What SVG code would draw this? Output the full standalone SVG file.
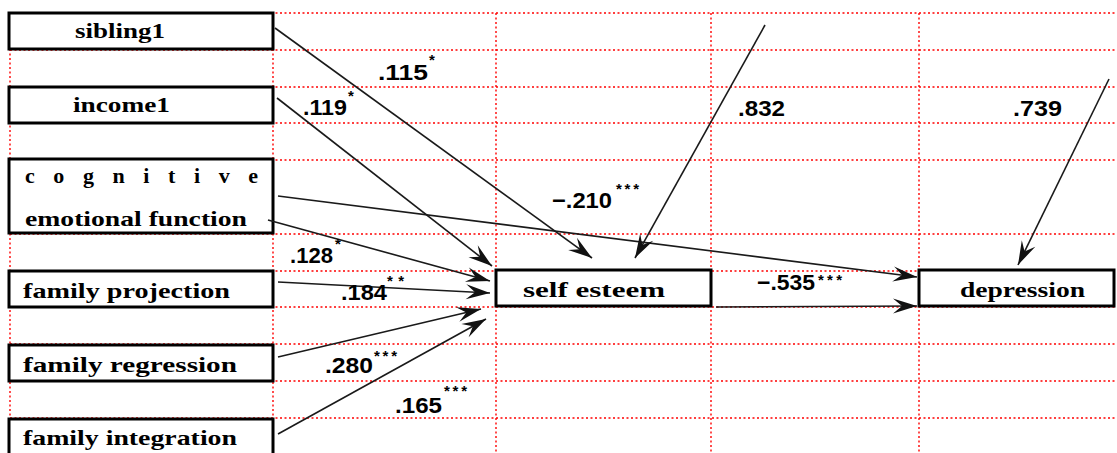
<svg xmlns="http://www.w3.org/2000/svg" width="1117" height="453" viewBox="0 0 1117 453">
<style>
.grid line{stroke:#ff0000;stroke-width:1.4;stroke-dasharray:2 2.5}
.box{fill:#fff;stroke:#000;stroke-width:3}
.lbl{font-family:"Liberation Serif","Times New Roman",serif;font-weight:bold;font-size:22px;fill:#000}
.num{font-family:"Liberation Sans",Arial,sans-serif;font-weight:bold;font-size:22px;fill:#000}
.star{font-family:"Liberation Sans",Arial,sans-serif;font-weight:bold;font-size:15px;fill:#000}
.conn line{stroke:#1a1a1a;stroke-width:1.6;fill:none;marker-end:url(#ah)}
</style>
<defs>
<marker id="ah" markerUnits="userSpaceOnUse" markerWidth="30" markerHeight="20" viewBox="-26 -10 30 20" refX="0" refY="0" orient="auto">
<path d="M0,0 L-24,-7.5 L-15,0 L-24,7.5 Z" fill="#111"/>
</marker>
</defs>
<rect width="1117" height="453" fill="#fff"/>
<g class="grid">
<line x1="10" y1="13" x2="1117" y2="13"/>
<line x1="10" y1="50" x2="1117" y2="50"/>
<line x1="10" y1="87" x2="1117" y2="87"/>
<line x1="10" y1="123" x2="1117" y2="123"/>
<line x1="10" y1="160" x2="1117" y2="160"/>
<line x1="10" y1="234" x2="1117" y2="234"/>
<line x1="10" y1="271" x2="1117" y2="271"/>
<line x1="10" y1="307" x2="1117" y2="307"/>
<line x1="10" y1="344" x2="1117" y2="344"/>
<line x1="10" y1="381" x2="1117" y2="381"/>
<line x1="10" y1="418" x2="1117" y2="418"/>
<line x1="10" y1="13" x2="10" y2="453"/>
<line x1="273" y1="13" x2="273" y2="453"/>
<line x1="496" y1="13" x2="496" y2="453"/>
<line x1="711" y1="13" x2="711" y2="453"/>
<line x1="919" y1="13" x2="919" y2="453"/>
</g>
<g id="sibling1"><rect class="box" x="9" y="13" width="264" height="36"/><text class="lbl" x="75" y="38" textLength="90" lengthAdjust="spacingAndGlyphs">sibling1</text></g>
<g id="income1"><rect class="box" x="9" y="87" width="264" height="36"/><text class="lbl" x="73" y="112" textLength="97" lengthAdjust="spacingAndGlyphs">income1</text></g>
<g id="cognitive"><rect class="box" x="9" y="159" width="264" height="74"/><text class="lbl" x="25" y="183" textLength="233" lengthAdjust="spacing">c o g n i t i v e</text><text class="lbl" x="25" y="226" textLength="222" lengthAdjust="spacingAndGlyphs">emotional function</text></g>
<g id="family_projection"><rect class="box" x="9" y="271" width="264" height="36"/><text class="lbl" x="23" y="298" textLength="207" lengthAdjust="spacingAndGlyphs">family projection</text></g>
<g id="family_regression"><rect class="box" x="9" y="345" width="264" height="36"/><text class="lbl" x="23" y="372" textLength="214" lengthAdjust="spacingAndGlyphs">family regression</text></g>
<g id="family_integration"><rect class="box" x="9" y="419" width="264" height="40"/><text class="lbl" x="23" y="445" textLength="214" lengthAdjust="spacingAndGlyphs">family integration</text></g>
<g id="self_esteem"><rect class="box" x="496" y="270" width="215" height="36"/><text class="lbl" x="523" y="297" textLength="142" lengthAdjust="spacingAndGlyphs">self esteem</text></g>
<g id="depression"><rect class="box" x="919" y="270" width="195" height="36"/><text class="lbl" x="960" y="297" textLength="125" lengthAdjust="spacingAndGlyphs">depression</text></g>
<g class="conn">
<line x1="275" y1="28" x2="592" y2="258"/>
<line x1="277" y1="98" x2="492" y2="266"/>
<line x1="278" y1="196" x2="917" y2="277"/>
<line x1="268" y1="220" x2="490" y2="281"/>
<line x1="278" y1="282" x2="490" y2="293"/>
<line x1="278" y1="357" x2="481" y2="309"/>
<line x1="278" y1="434" x2="486" y2="319"/>
<line x1="765" y1="25" x2="635" y2="258"/>
<line x1="1109" y1="79" x2="1018" y2="265"/>
<line x1="716" y1="307" x2="917" y2="306"/>
</g>
<g id="coefficients">
<text class="num" x="378" y="80" textLength="50" lengthAdjust="spacingAndGlyphs">.115</text><text class="star" x="429" y="65">*</text>
<text class="num" x="303" y="115" textLength="44" lengthAdjust="spacingAndGlyphs">.119</text><text class="star" x="348" y="101">*</text>
<text class="num" x="552" y="208" textLength="60" lengthAdjust="spacingAndGlyphs">−.210</text><text class="star" x="616" y="194" textLength="23" lengthAdjust="spacing">***</text>
<text class="num" x="738" y="116" textLength="47" lengthAdjust="spacingAndGlyphs">.832</text>
<text class="num" x="1013" y="116" textLength="49" lengthAdjust="spacingAndGlyphs">.739</text>
<text class="num" x="290" y="263" textLength="43" lengthAdjust="spacingAndGlyphs">.128</text><text class="star" x="335" y="249">*</text>
<text class="num" x="341" y="300" textLength="46" lengthAdjust="spacingAndGlyphs">.184</text><text class="star" x="387" y="286" textLength="17" lengthAdjust="spacing">**</text>
<text class="num" x="325" y="373" textLength="48" lengthAdjust="spacingAndGlyphs">.280</text><text class="star" x="374" y="361" textLength="23" lengthAdjust="spacing">***</text>
<text class="num" x="395" y="413" textLength="47" lengthAdjust="spacingAndGlyphs">.165</text><text class="star" x="444" y="396" textLength="23" lengthAdjust="spacing">***</text>
<text class="num" x="757" y="290" textLength="58" lengthAdjust="spacingAndGlyphs">−.535</text><text class="star" x="818" y="285" textLength="24" lengthAdjust="spacing">***</text>
</g>
</svg>
